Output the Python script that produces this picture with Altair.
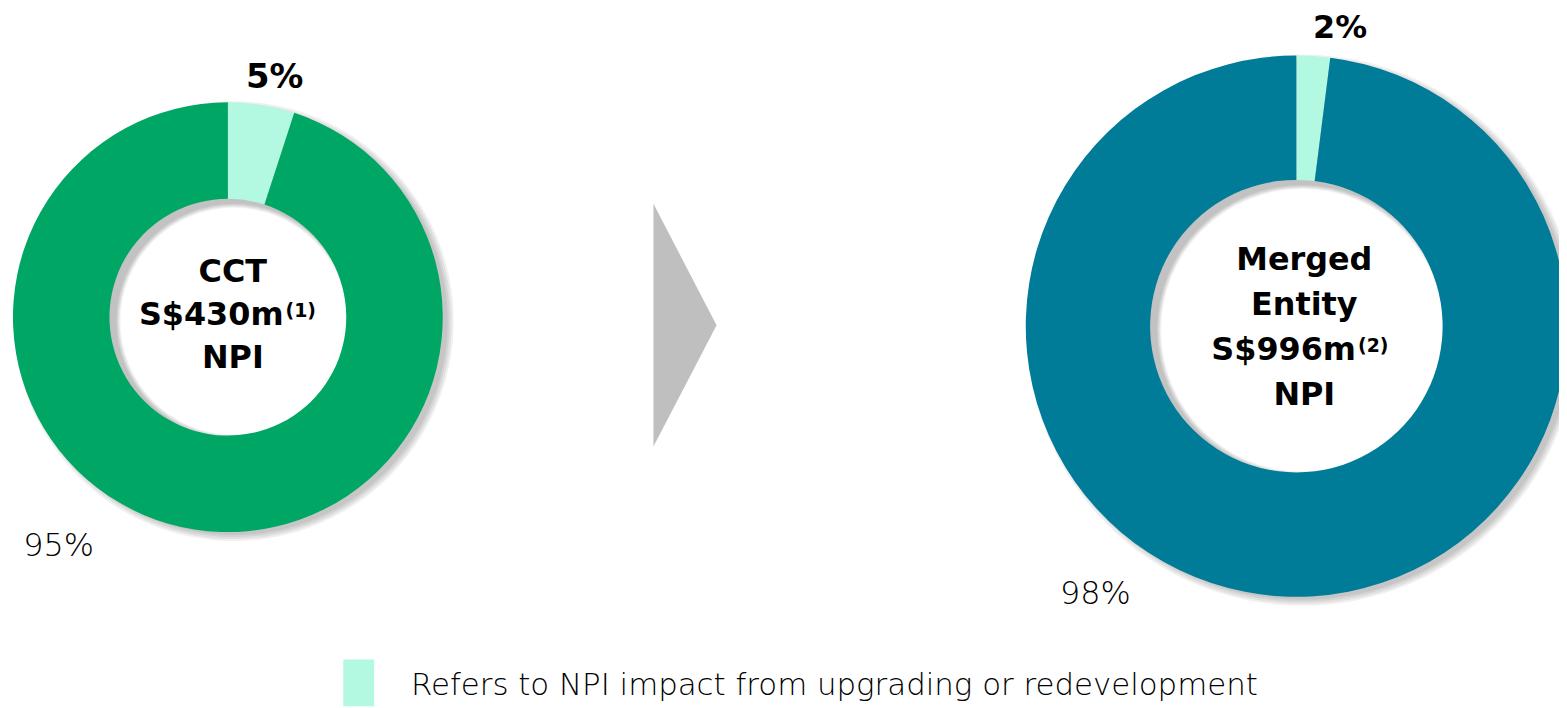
import altair as alt
import pandas as pd

# ---- data ----
donuts = ["CCT", "Merged Entity"]
upgrade_pct = [5, 2]
other_pct = [95, 98]
base_keys = ["CCT base", "Merged base"]
upgrade_labels = ["5%", "2%"]
other_labels = ["95%", "98%"]
legend_text = "Refers to NPI impact from upgrading or redevelopment"

color_domain = ["upgrade", "CCT base", "Merged base"]
color_range = ["#B3F8E0", "#00A664", "#007B98"]

rows = []
for d, u, o, k in zip(donuts, upgrade_pct, other_pct, base_keys):
    rows.append({"donut": d, "key": "upgrade", "value": u, "ord": 0})
    rows.append({"donut": d, "key": k, "value": o, "ord": 1})
df = pd.DataFrame(rows)

W, H = 1559, 700
FONT = "DejaVu Sans"

# layout: (cx, cy, inner, outer)
geo = {
    "CCT": (221, 309, 119, 216),
    "Merged Entity": (1295, 318, 147, 272),
}

one = pd.DataFrame({"a": [0]})


def shadow_layers(cx, cy, rin, rout):
    layers = []
    # inner shadow inside the hole
    for w in [1, 2, 3, 4, 5]:
        layers.append(
            alt.Chart(one)
            .mark_arc(innerRadius=rin - w, outerRadius=rin + 14, theta=0,
                      theta2=6.2832, color="#000000", opacity=0.05)
            .encode(x=alt.value(cx + 6), y=alt.value(cy + 4))
        )
    # outer drop shadow
    for w in [-1, 1, 3, 5]:
        layers.append(
            alt.Chart(one)
            .mark_arc(innerRadius=rin + 12, outerRadius=rout + w, theta=0,
                      theta2=6.2832, color="#000000", opacity=0.06)
            .encode(x=alt.value(cx + 6), y=alt.value(cy + 4))
        )
    return layers


def donut_layer(name):
    cx, cy, rin, rout = geo[name]
    return (
        alt.Chart(df)
        .transform_filter(alt.datum.donut == name)
        .mark_arc(innerRadius=rin, outerRadius=rout)
        .encode(
            theta=alt.Theta("value:Q", stack=True),
            order=alt.Order("ord:Q"),
            color=alt.Color("key:N", scale=alt.Scale(domain=color_domain, range=color_range), legend=None),
            x=alt.value(cx),
            y=alt.value(cy),
        )
    )


def txt(s, x, y, size, weight="bold", align="center", baseline="middle", color="#000000"):
    return (
        alt.Chart(pd.DataFrame({"t": [s]}))
        .mark_text(font=FONT, fontSize=size, fontWeight=weight, align=align,
                   baseline=baseline, color=color)
        .encode(text="t:N", x=alt.value(x), y=alt.value(y))
    )


layers = []
for name in donuts:
    cx, cy, rin, rout = geo[name]
    layers += shadow_layers(cx, cy, rin, rout)
for name in donuts:
    layers.append(donut_layer(name))

# arrow
layers.append(
    alt.Chart(one)
    .mark_point(shape="M-0.26,-1L0.26,0L-0.26,1Z", size=59536, filled=True,
                color="#BFBFBF", opacity=1, strokeWidth=0)
    .encode(x=alt.value(680.5), y=alt.value(317))
)

# percentage labels
layers.append(txt(upgrade_labels[0], 268, 69, 34))
layers.append(txt(upgrade_labels[1], 1339, 18, 32))
layers.append(txt(other_labels[0], 51, 539, 32, weight=300))
layers.append(txt(other_labels[1], 1093, 587, 32, weight=300))

# center texts
layers.append(txt("CCT", 226, 264, 32))
layers.append(txt("S$430m", 277, 307, 32, align="right"))
layers.append(txt("(1)", 279, 303, 19, align="left"))
layers.append(txt("NPI", 226, 350, 32))

layers.append(txt("Merged", 1303, 252, 32))
layers.append(txt("Entity", 1303, 297, 32))
layers.append(txt("S$996m", 1355, 342, 32, align="right"))
layers.append(txt("(2)", 1357, 338, 19, align="left"))
layers.append(txt("NPI", 1303, 387, 32))

# legend
layers.append(
    alt.Chart(one)
    .mark_rect(color="#B3F8E0")
    .encode(x=alt.value(337), x2=alt.value(368), y=alt.value(653), y2=alt.value(700))
)
layers.append(txt(legend_text, 405, 680, 31, weight=300, align="left"))

chart = (
    alt.layer(*layers)
    .resolve_scale(theta="independent")
    .properties(width=W, height=H, autosize=alt.AutoSizeParams(type="none"), padding=0)
    .configure_view(stroke=None)
)

chart.save("out.html", embed_options={"renderer": "svg", "actions": False})
